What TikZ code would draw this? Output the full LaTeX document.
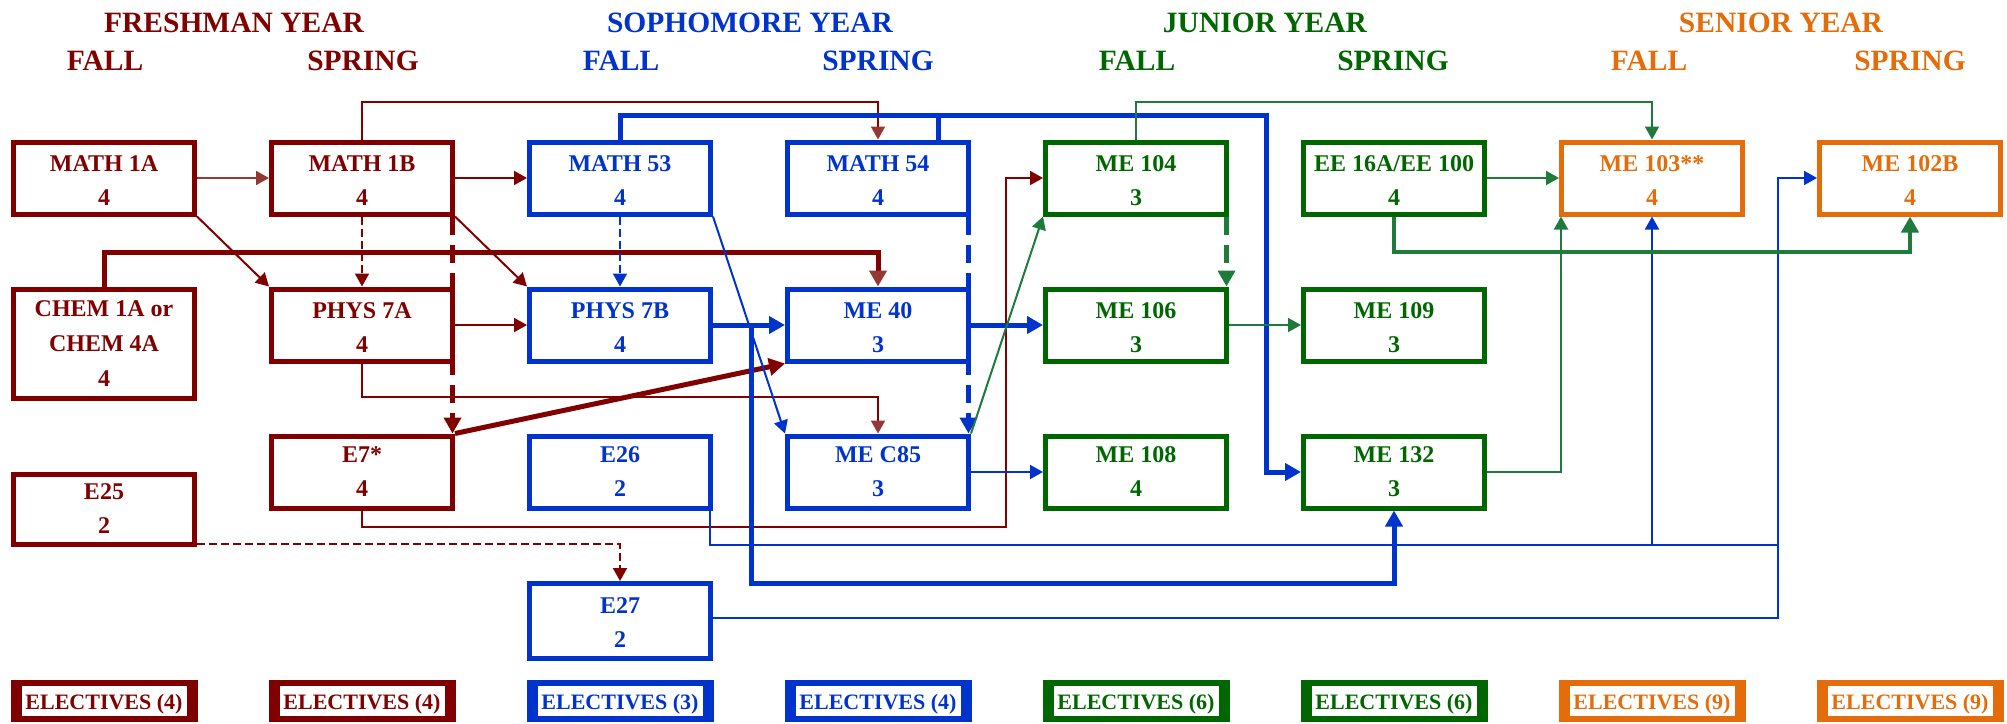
\documentclass[tikz,border=0pt]{standalone}
\usepackage{fontspec}
\setmainfont{Liberation Serif}
\usetikzlibrary{arrows.meta,calc}
\definecolor{mred}{HTML}{800000}
\definecolor{lred}{HTML}{953735}
\definecolor{mblue}{HTML}{0033CC}
\definecolor{mgreen}{HTML}{006600}
\definecolor{lgreen}{HTML}{1E7B3C}
\definecolor{morange}{HTML}{E46C0A}
% name, position, colour, box options, text shift, text
\newcommand\crs[6]{%
  \node[cbox,draw=#3,#4] (#1) at (#2) {};
  \node[ctext,text=#3] at ([yshift=#5]#1.center) {#6};}
\newcommand\elec[4]{%
  \node[ebox,draw=#3,text=#3] (#1) at (#2,701) {#4};
  \draw[line width=5pt,#3] ([xshift=8.5pt]#1.north west) -- ([xshift=8.5pt]#1.south west)
        ([xshift=-8.5pt]#1.north east) -- ([xshift=-8.5pt]#1.south east);}
\begin{document}
\begin{tikzpicture}[x=1pt,y=-1pt,
  cbox/.style={draw, line width=5pt, minimum width=181pt, minimum height=72pt, inner sep=0pt},
  ctext/.style={font=\bfseries\fontsize{24}{34}\selectfont, align=center, inner sep=0pt},
  ebox/.style={draw, line width=6pt, minimum width=181pt, minimum height=36pt, inner sep=0pt,
     text height=20.5pt, text depth=4.5pt, font=\bfseries\fontsize{22}{24}\selectfont},
  hdr/.style={font=\bfseries\fontsize{29.5}{30}\selectfont, inner sep=0pt, text height=20pt, text depth=0pt},
  wthin/.style={line width=2pt},
  wthick/.style={line width=5pt},
  arr/.style={-{Triangle[length=13pt,width=14pt,color=#1]}},
  bigarr/.style={-{Triangle[length=16pt,width=17pt,color=#1]}},
  tdash/.style={dash pattern=on 8pt off 4pt},
  Tdash/.style={dash pattern=on 18pt off 10pt}
]
\useasboundingbox (0,0) rectangle (2007,723);

% headers
\node[hdr,text=mred] (hy1) at (234,22) {FRESHMAN YEAR};
\node[hdr,text=mblue] (hy2) at (750,22) {SOPHOMORE YEAR};
\node[hdr,text=mgreen] (hy3) at (1265,22) {JUNIOR YEAR};
\node[hdr,text=morange] (hy4) at (1781,22) {SENIOR YEAR};
\node[hdr,text=mred] (hs1) at (105,60) {FALL};
\node[hdr,text=mred] (hs2) at (363,60) {SPRING};
\node[hdr,text=mblue] (hs3) at (621,60) {FALL};
\node[hdr,text=mblue] (hs4) at (878,60) {SPRING};
\node[hdr,text=mgreen] (hs5) at (1137,60) {FALL};
\node[hdr,text=mgreen] (hs6) at (1393,60) {SPRING};
\node[hdr,text=morange] (hs7) at (1649,60) {FALL};
\node[hdr,text=morange] (hs8) at (1910,60) {SPRING};

% row 1
\crs{m1a}{104,178}{mred}{}{-2.5pt}{MATH 1A\\4}
\crs{m1b}{362,178}{mred}{}{-2.5pt}{MATH 1B\\4}
\crs{m53}{620,178}{mblue}{}{-2.5pt}{MATH 53\\4}
\crs{m54}{878,178}{mblue}{}{-2.5pt}{MATH 54\\4}
\crs{me104}{1136,178}{mgreen}{}{-2.5pt}{ME 104\\3}
\crs{ee16}{1394,178}{mgreen}{}{-2.5pt}{EE 16A/EE 100\\4}
\crs{me103}{1652,178}{morange}{}{-2.5pt}{ME 103**\\4}
\crs{me102}{1910,178}{morange}{}{-2.5pt}{ME 102B\\4}
% row 2
\node[cbox,draw=mred,minimum height=109pt] (chem) at (104,344) {};
\node[ctext,text=mred,font=\bfseries\fontsize{24}{35}\selectfont] at (chem.center) {CHEM 1A or\\CHEM 4A\\4};
\crs{p7a}{362,325}{mred}{}{-2.5pt}{PHYS 7A\\4}
\crs{p7b}{620,325}{mblue}{}{-2.5pt}{PHYS 7B\\4}
\crs{me40}{878,325}{mblue}{}{-2.5pt}{ME 40\\3}
\crs{me106}{1136,325}{mgreen}{}{-2.5pt}{ME 106\\3}
\crs{me109}{1394,325}{mgreen}{}{-2.5pt}{ME 109\\3}
% row 3
\crs{e25}{104,509.5}{mred}{minimum height=70pt}{1pt}{E25\\2}
\crs{e7}{362,472}{mred}{}{0pt}{E7*\\4}
\crs{e26}{620,472}{mblue}{}{0pt}{E26\\2}
\crs{mc85}{878,472}{mblue}{}{0pt}{ME C85\\3}
\crs{me108}{1136,472}{mgreen}{}{0pt}{ME 108\\4}
\crs{me132}{1394,472}{mgreen}{}{0pt}{ME 132\\3}
\crs{e27}{620,621}{mblue}{minimum height=75pt}{-1.5pt}{E27\\2}

% electives
\elec{el1}{104}{mred}{ELECTIVES (4)}
\elec{el2}{362}{mred}{ELECTIVES (4)}
\elec{el3}{620}{mblue}{ELECTIVES (3)}
\elec{el4}{878}{mblue}{ELECTIVES (4)}
\elec{el5}{1136}{mgreen}{ELECTIVES (6)}
\elec{el6}{1394}{mgreen}{ELECTIVES (6)}
\elec{el7}{1652}{morange}{ELECTIVES (9)}
\elec{el8}{1910}{morange}{ELECTIVES (9)}

% level coordinates
\coordinate (L102) at (0,102);
\coordinate (L115) at (0,115);
\coordinate (L252) at (0,252);
\coordinate (L397) at (0,397);
\coordinate (L527) at (0,527);
\coordinate (L545) at (0,545);
\coordinate (L583) at (0,583);
\coordinate (X751) at (751,0);
\coordinate (X1006) at (1006,0);
\coordinate (X1266) at (1266,0);
\coordinate (X1778) at (1778,0);

% connectors: freshman
\draw[wthin,lred,arr=lred] (m1a.east) -- (m1b.west);
\draw[wthin,mred,arr=mred] (m1b.east) -- (m53.west);
\draw[wthin,mred,arr=mred] (m1a.south east) -- (p7a.north west);
\draw[wthin,mred,arr=mred,tdash] (m1b.south) -- (p7a.north);
\draw[wthick,mred,bigarr=mred,Tdash] ([xshift=-2.5pt]m1b.south east) -- ([xshift=-2.5pt]e7.north east);
\draw[wthin,mred,arr=mred] (m1b.south east) -- (p7b.north west);
\draw[wthin,mred,arr=lred] (m1b.north) -- (m1b.north |- L102) -| (m54.north);
\draw[wthick,mred,bigarr=lred] (chem.north) -- (chem.north |- L252) -| (me40.north);
\draw[wthin,mred,arr=mred] (p7a.east) -- (p7b.west);
\draw[wthin,mred,arr=lred] (p7a.south) -- (p7a.south |- L397) -| (mc85.north);
\draw[wthin,mred,arr=mred] (e7.south) -- (e7.south |- L527) -| (X1006 |- me104.west) -- (me104.west);
\draw[wthin,mred,arr=mred,tdash] ([yshift=3pt]e25.south east) -| (e27.north);
\draw[wthick,mred,bigarr=mred] (e7.north east) -- (me40.south west);

% sophomore
\draw[wthin,mblue,arr=mblue,tdash] (m53.south) -- (p7b.north);
\draw[wthick,mblue,bigarr=mblue] (p7b.east) -- (me40.west);
\coordinate (j1) at (X751 |- p7b.east);
\draw[wthick,mblue,bigarr=mblue] (j1) -- (j1 |- L583) -| (me132.south);
\draw[wthin,mblue,arr=mblue] (m53.south east) -- (mc85.north west);
\draw[wthick,mblue,bigarr=mblue,Tdash] ([xshift=-2.5pt]m54.south east) -- ([xshift=-2.5pt]mc85.north east);
\draw[wthick,mblue,bigarr=mblue] (m53.north) -- (m53.north |- L115) -| (X1266 |- me132.west) -- (me132.west);
\coordinate (j54) at ([xshift=60pt]m54.north);
\draw[wthick,mblue] (j54) -- (j54 |- L115);
\draw[wthick,mblue,bigarr=mblue] (me40.east) -- (me106.west);
\draw[wthin,mblue,arr=mblue] (mc85.east) -- (me108.west);
\coordinate (je26) at ([xshift=-3pt]e26.south east);
\draw[wthin,mblue] (je26) -- (je26 |- L545) -- (X1778 |- L545);
\draw[wthin,mblue,arr=mblue] (me103.south |- L545) -- (me103.south);
\draw[wthin,mblue,arr=mblue] ([yshift=3pt]e27.east) -| (X1778 |- me102.west) -- (me102.west);

% junior
\draw[wthin,lgreen,arr=lgreen] (mc85.north east) -- (me104.south west);
\draw[wthick,lgreen,bigarr=lgreen,Tdash] ([xshift=-2.5pt]me104.south east) -- ([xshift=-2.5pt]me106.north east);
\draw[wthin,lgreen,arr=lgreen] (me106.east) -- (me109.west);
\draw[wthin,lgreen,arr=lgreen] (ee16.east) -- (me103.west);
\draw[line width=4pt,lgreen,bigarr=lgreen] (ee16.south) -- (ee16.south |- L252) -| (me102.south);
\draw[wthin,lgreen,arr=lgreen] (me132.east) -| ([xshift=2pt]me103.south west);
\draw[wthin,lgreen,arr=lgreen] (me104.north) -- (me104.north |- L102) -| (me103.north);
\end{tikzpicture}
\end{document}
